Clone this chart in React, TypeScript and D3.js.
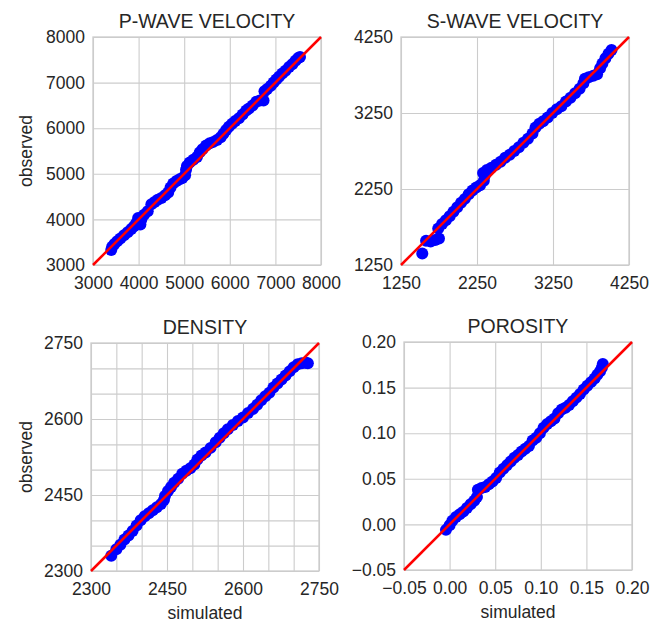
import { useEffect, useRef } from 'react'
import * as d3 from 'd3'

// [simulated, observed] quantile pairs
const P_WAVE: [number, number][] = [
  [3400, 3330], [3420, 3400], [3470, 3460], [3530, 3520], [3600, 3580], [3680, 3650], [3760, 3720],
  [3840, 3790], [3900, 3850], [3950, 3920], [3990, 4030], [4040, 3890], [4060, 4000], [4120, 4100],
  [4200, 4180], [4280, 4330], [4350, 4380], [4420, 4430], [4500, 4470], [4580, 4530], [4650, 4590],
  [4700, 4700], [4760, 4790], [4830, 4840], [4900, 4880], [4960, 4910], [5020, 4970], [5040, 5090],
  [5060, 5170], [5120, 5250], [5200, 5310], [5280, 5370], [5340, 5470], [5400, 5540], [5480, 5620],
  [5560, 5670], [5640, 5700], [5720, 5740], [5800, 5800], [5860, 5880], [5920, 5960], [5980, 6030],
  [6050, 6100], [6120, 6160], [6200, 6220], [6280, 6300], [6360, 6390], [6420, 6430], [6500, 6500],
  [6580, 6580], [6660, 6610], [6740, 6610], [6760, 6810], [6820, 6860], [6900, 6930], [6960, 7000],
  [7020, 7070], [7080, 7130], [7150, 7200], [7220, 7260], [7300, 7340], [7370, 7400], [7440, 7480],
  [7500, 7540], [7540, 7560],
]

const S_WAVE: [number, number][] = [
  [1530, 1400], [1580, 1570], [1640, 1560], [1700, 1580], [1750, 1600], [1740, 1730], [1790, 1790],
  [1840, 1840], [1890, 1890], [1940, 1950], [1990, 2010], [2040, 2070], [2090, 2120], [2140, 2180],
  [2190, 2230], [2240, 2270], [2290, 2300], [2340, 2360], [2350, 2420], [2330, 2460], [2380, 2500],
  [2440, 2530], [2500, 2570], [2560, 2610], [2620, 2660], [2680, 2700], [2740, 2750], [2800, 2800],
  [2860, 2860], [2920, 2910], [2980, 2980], [3020, 3060], [3070, 3110], [3120, 3140], [3180, 3190],
  [3240, 3250], [3300, 3300], [3360, 3340], [3420, 3400], [3480, 3450], [3540, 3510], [3600, 3570],
  [3650, 3640], [3670, 3700], [3720, 3720], [3780, 3740], [3830, 3760], [3870, 3840], [3900, 3900],
  [3940, 3970], [3980, 4030], [4020, 4080],
]

const DENSITY: [number, number][] = [
  [2340, 2330], [2350, 2343], [2358, 2352], [2366, 2362], [2374, 2370], [2382, 2379], [2390, 2390],
  [2398, 2400], [2406, 2408], [2414, 2414], [2422, 2420], [2430, 2426], [2438, 2432], [2444, 2440],
  [2446, 2448], [2452, 2458], [2458, 2466], [2464, 2474], [2472, 2482], [2480, 2492], [2488, 2498],
  [2496, 2503], [2504, 2510], [2510, 2520], [2518, 2528], [2526, 2534], [2536, 2543], [2546, 2554],
  [2554, 2563], [2562, 2572], [2570, 2580], [2580, 2588], [2590, 2596], [2600, 2603], [2610, 2612],
  [2620, 2620], [2628, 2628], [2636, 2637], [2644, 2645], [2652, 2652], [2660, 2662], [2668, 2670],
  [2676, 2678], [2684, 2686], [2692, 2694], [2700, 2702], [2708, 2708], [2716, 2710], [2724, 2711],
  [2728, 2710],
]

const POROSITY: [number, number][] = [
  [-0.004, -0.006], [0.0, -0.001], [0.003, 0.004], [0.007, 0.008], [0.011, 0.011], [0.015, 0.014],
  [0.019, 0.018], [0.023, 0.022], [0.027, 0.026], [0.03, 0.03], [0.031, 0.038], [0.035, 0.04],
  [0.039, 0.041], [0.043, 0.044], [0.047, 0.047], [0.051, 0.051], [0.055, 0.057], [0.059, 0.061],
  [0.063, 0.065], [0.067, 0.069], [0.071, 0.073], [0.075, 0.076], [0.079, 0.08], [0.083, 0.083],
  [0.087, 0.086], [0.091, 0.092], [0.095, 0.095], [0.099, 0.1], [0.103, 0.106], [0.107, 0.11],
  [0.111, 0.113], [0.115, 0.116], [0.119, 0.122], [0.123, 0.126], [0.127, 0.128], [0.131, 0.131],
  [0.135, 0.135], [0.139, 0.139], [0.143, 0.143], [0.147, 0.148], [0.151, 0.152], [0.155, 0.156],
  [0.159, 0.16], [0.162, 0.164], [0.165, 0.168], [0.167, 0.172], [0.168, 0.176],
]

const P_TICKS = [3000, 4000, 5000, 6000, 7000, 8000]
const S_TICKS = [1250, 2250, 3250, 4250]
const D_TICKS = [2300, 2450, 2600, 2750]
const D_GRID = [2300, 2350, 2400, 2450, 2500, 2550, 2600, 2650, 2700, 2750]
const POR_TICKS = [-0.05, 0, 0.05, 0.1, 0.15, 0.2]

const panels = [
  { title: 'P-WAVE VELOCITY', data: P_WAVE, ticks: P_TICKS, grid: P_TICKS, fmt: d3.format('d'), left: 93, top: 37, xLabel: '', yLabel: 'observed' },
  { title: 'S-WAVE VELOCITY', data: S_WAVE, ticks: S_TICKS, grid: S_TICKS, fmt: d3.format('d'), left: 401, top: 37, xLabel: '', yLabel: '' },
  { title: 'DENSITY', data: DENSITY, ticks: D_TICKS, grid: D_GRID, fmt: d3.format('d'), left: 91, top: 343, xLabel: 'simulated', yLabel: 'observed' },
  { title: 'POROSITY', data: POROSITY, ticks: POR_TICKS, grid: POR_TICKS, fmt: d3.format('.2f'), left: 404, top: 342, xLabel: 'simulated', yLabel: '' },
]

const FONT = '"Liberation Sans", Arial, sans-serif'
const TEXT = '#262626'
const GRID = '#cccccc'

export default function App() {
  const svgRef = useRef<SVGSVGElement>(null)

  useEffect(() => {
    const svg = d3.select(svgRef.current)
    svg.selectAll('*').remove()
    const size = 228

    panels.forEach((p) => {
      const dom = [p.ticks[0], p.ticks[p.ticks.length - 1]]
      const x = d3.scaleLinear().domain(dom).range([p.left, p.left + size])
      const y = d3.scaleLinear().domain(dom).range([p.top + size, p.top])
      const g = svg.append('g')

      // grid
      g.append('g')
        .attr('transform', `translate(0,${p.top + size})`)
        .call(d3.axisBottom(x).tickValues(p.grid).tickSize(-size).tickFormat(() => ''))
        .call((ax) => ax.select('.domain').remove())
        .call((ax) => ax.selectAll('.tick line').attr('stroke', GRID).attr('stroke-width', 1.1))
      g.append('g')
        .attr('transform', `translate(${p.left},0)`)
        .call(d3.axisLeft(y).tickValues(p.grid).tickSize(-size).tickFormat(() => ''))
        .call((ax) => ax.select('.domain').remove())
        .call((ax) => ax.selectAll('.tick line').attr('stroke', GRID).attr('stroke-width', 1.1))

      // tick labels
      g.append('g')
        .attr('transform', `translate(0,${p.top + size})`)
        .call(d3.axisBottom(x).tickValues(p.ticks).tickSize(0).tickPadding(11.5).tickFormat((d) => p.fmt(d as number)))
        .call((ax) => ax.select('.domain').remove())
        .call((ax) => ax.selectAll('text').attr('fill', TEXT).attr('font-size', 17.5).attr('font-family', FONT))
      g.append('g')
        .attr('transform', `translate(${p.left},0)`)
        .call(d3.axisLeft(y).tickValues(p.ticks).tickSize(0).tickPadding(8).tickFormat((d) => p.fmt(d as number)))
        .call((ax) => ax.select('.domain').remove())
        .call((ax) => ax.selectAll('text').attr('fill', TEXT).attr('font-size', 17.5).attr('font-family', FONT))

      // spines
      g.append('rect')
        .attr('x', p.left).attr('y', p.top).attr('width', size).attr('height', size)
        .attr('fill', 'none').attr('stroke', GRID).attr('stroke-width', 1.3)

      // points
      g.append('g')
        .selectAll('circle')
        .data(p.data)
        .join('circle')
        .attr('cx', (d) => x(d[0]))
        .attr('cy', (d) => y(d[1]))
        .attr('r', 6)
        .attr('fill', '#0000ff')

      // 1:1 line
      g.append('line')
        .attr('x1', x(dom[0])).attr('y1', y(dom[0]))
        .attr('x2', x(dom[1])).attr('y2', y(dom[1]))
        .attr('stroke', '#ff0000').attr('stroke-width', 2.5)

      g.append('text')
        .attr('x', p.left + size / 2).attr('y', p.top - 9.5)
        .attr('text-anchor', 'middle').attr('fill', TEXT)
        .attr('font-size', 19.5).attr('font-family', FONT)
        .text(p.title)

      if (p.yLabel) {
        g.append('text')
          .attr('transform', `translate(32,${p.top + size / 2}) rotate(-90)`)
          .attr('text-anchor', 'middle').attr('fill', TEXT)
          .attr('font-size', 17.5).attr('font-family', FONT)
          .text(p.yLabel)
      }
      if (p.xLabel) {
        g.append('text')
          .attr('x', p.left + size / 2).attr('y', p.top + size + 48)
          .attr('text-anchor', 'middle').attr('fill', TEXT)
          .attr('font-size', 17.5).attr('font-family', FONT)
          .text(p.xLabel)
      }
    })
  }, [])

  return (
    <div style={{ position: 'absolute', left: 0, top: 0 }}>
      <svg ref={svgRef} width={664} height={622} style={{ display: 'block', background: '#fff' }} />
    </div>
  )
}
